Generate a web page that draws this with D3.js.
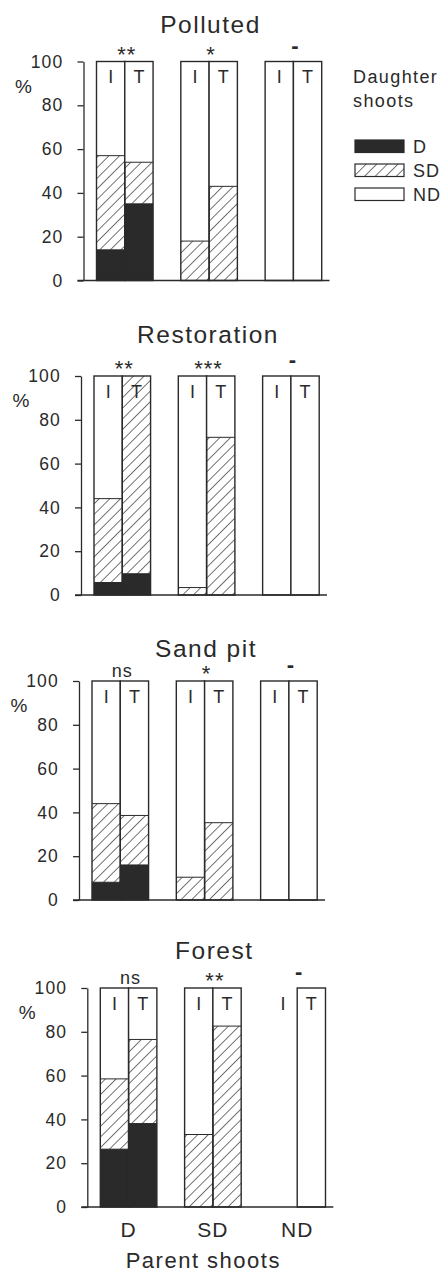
<!DOCTYPE html>
<html>
<head>
<meta charset="utf-8">
<script src="https://cdn.jsdelivr.net/npm/d3@7"></script>
<style>
  body { margin: 0; background: #fff; }
  text { font-family: "Liberation Sans", Arial, Helvetica, sans-serif; fill: #2a2a2a; }
</style>
</head>
<body>
<script>
// site panels, parent shoot classes, treatments
var sites = ["Polluted", "Restoration", "Sand pit", "Forest"];
var parents = ["D", "SD", "ND"];
var treatments = ["I", "T"];
var ticks = [0, 20, 40, 60, 80, 100];
var legendKeys = ["D", "SD", "ND"];

// % of daughter shoots per bar, order: D-I, D-T, SD-I, SD-T, ND-I, ND-T (null = no bar)
var pctD = [
  [14, 35, 0, 0, 0, 0],
  [5.7, 9.7, 0, 0, 0, 0],
  [8.1, 16, 0, 0, 0, 0],
  [26.4, 38.1, 0, 0, null, 0]
];
var pctSD = [
  [43, 19, 18, 43, 0, 0],
  [38.3, 90.3, 3.4, 72, 0, 0],
  [35.9, 22.6, 10.4, 35.3, 0, 0],
  [32.1, 38.4, 33.1, 82.6, null, 0]
];
// significance labels above each parent group
var sig = [
  ["**", "*", "-"],
  ["**", "***", "-"],
  ["ns", "*", "-"],
  ["ns", "**", "-"]
];

// panel placement (scanned figure is slightly uneven)
var panelPos = [
  {x: 83.5, y: 61.5, title: 33},
  {x: 81, y: 376, title: 343},
  {x: 79, y: 681, title: 657},
  {x: 87.3, y: 988, title: 959}
];
var H = 219;
var ink = "#2a2a2a";

var svg = d3.select("body").append("svg")
  .attr("width", 448)
  .attr("height", 1272);

var defs = svg.append("defs");
defs.append("pattern")
  .attr("id", "hatch")
  .attr("patternUnits", "userSpaceOnUse")
  .attr("width", 7.5)
  .attr("height", 7.5)
  .attr("patternTransform", "rotate(45)")
  .append("line")
  .attr("x1", 0).attr("y1", 0)
  .attr("x2", 0).attr("y2", 7.5)
  .attr("stroke", ink)
  .attr("stroke-width", 1.3);

var fills = {D: ink, SD: "url(#hatch)", ND: "#fff"};

sites.forEach(function(site, i) {
  var pos = panelPos[i];
  var g = svg.append("g").attr("transform", "translate(" + pos.x + "," + pos.y + ")");

  var y = d3.scaleLinear().domain([0, 100]).range([H, 0]);
  var x = d3.scaleBand().domain(parents).range([13, 238.2]).paddingInner(0.329);
  var xs = d3.scaleBand().domain(treatments).range([0, x.bandwidth()]);

  // title
  svg.append("text")
    .attr("x", pos.x + 127)
    .attr("y", pos.title)
    .attr("text-anchor", "middle")
    .style("font-size", "24.5px")
    .style("letter-spacing", "1.5px")
    .text(site);

  // bars
  var bars = [];
  parents.forEach(function(p, j) {
    treatments.forEach(function(t, k) {
      var idx = j * 2 + k;
      bars.push({parent: p, treat: t, d: pctD[i][idx], sd: pctSD[i][idx]});
    });
  });

  var bg = g.selectAll(".bar")
    .data(bars)
    .enter().append("g")
    .attr("class", "bar")
    .attr("transform", function(b) { return "translate(" + (x(b.parent) + xs(b.treat)) + ",0)"; });

  bg.each(function(b) {
    if (b.d === null) return;
    var sel = d3.select(this);
    var w = xs.bandwidth();
    var segs = [
      {key: "D", lo: 0, hi: b.d},
      {key: "SD", lo: b.d, hi: b.d + b.sd},
      {key: "ND", lo: b.d + b.sd, hi: 100}
    ].filter(function(s) { return s.hi > s.lo; });

    sel.selectAll("rect.seg")
      .data(segs)
      .enter().append("rect")
      .attr("class", "seg")
      .attr("x", 0)
      .attr("width", w)
      .attr("y", function(s) { return y(s.hi); })
      .attr("height", function(s) { return y(s.lo) - y(s.hi); })
      .attr("fill", function(s) { return fills[s.key]; });

    // boundaries between segments
    segs.slice(1).forEach(function(s) {
      sel.append("line")
        .attr("x1", 0).attr("x2", w)
        .attr("y1", y(s.lo)).attr("y2", y(s.lo))
        .attr("stroke", ink).attr("stroke-width", 1);
    });

    sel.append("rect")
      .attr("x", 0).attr("y", y(100))
      .attr("width", w).attr("height", y(0) - y(100))
      .attr("fill", "none")
      .attr("stroke", ink)
      .attr("stroke-width", 1.4);
  });

  // I / T labels (drawn even when a bar is missing)
  g.selectAll(".tlab")
    .data(bars)
    .enter().append("text")
    .attr("class", "tlab")
    .attr("x", function(b) { return x(b.parent) + xs(b.treat) + xs.bandwidth() / 2; })
    .attr("y", y(100) + 21.5)
    .attr("text-anchor", "middle")
    .style("font-size", "18px")
    .text(function(b) { return b.treat; });

  // significance
  g.selectAll(".sig")
    .data(parents)
    .enter().append("text")
    .attr("class", "sig")
    .attr("x", function(p) { return x(p) + x.bandwidth() / 2 + 2; })
    .attr("y", function(p, j) {
      var s = sig[i][j];
      return s === "-" ? -9 : (s === "ns" ? -4 : 0);
    })
    .attr("text-anchor", "middle")
    .style("font-size", function(p, j) { return sig[i][j] === "ns" ? "18px" : "22px"; })
    .style("font-weight", function(p, j) { return sig[i][j] === "-" ? "bold" : "normal"; })
    .style("letter-spacing", "1px")
    .text(function(p, j) { return sig[i][j]; });

  // y axis
  var yAxis = g.append("g")
    .call(d3.axisLeft(y).tickValues(ticks).tickSize(6).tickPadding(14).tickSizeOuter(0));
  yAxis.select(".domain").attr("stroke", ink).attr("stroke-width", 1.3);
  yAxis.selectAll(".tick line").attr("stroke", ink).attr("stroke-width", 1.3);
  yAxis.selectAll(".tick text")
    .style("font-size", "17.5px")
    .style("letter-spacing", "1.2px")
    .style("font-family", "'Liberation Sans', Arial, sans-serif")
    .attr("fill", ink);

  // baseline
  g.append("line")
    .attr("x1", -6).attr("x2", 246)
    .attr("y1", y(0)).attr("y2", y(0))
    .attr("stroke", ink).attr("stroke-width", 1.3);

  g.append("text")
    .attr("x", -60)
    .attr("y", y(100) + 31)
    .attr("text-anchor", "middle")
    .style("font-size", "19px")
    .text("%");

  if (i === sites.length - 1) {
    var xAxis = g.append("g")
      .attr("transform", "translate(0," + H + ")")
      .call(d3.axisBottom(x).tickSize(0).tickPadding(15));
    xAxis.select(".domain").remove();
    xAxis.selectAll(".tick text")
      .style("font-size", "21px")
      .style("letter-spacing", "1px")
      .style("font-family", "'Liberation Sans', Arial, sans-serif")
      .attr("fill", ink);

    g.append("text")
      .attr("x", 116)
      .attr("y", H + 61)
      .attr("text-anchor", "middle")
      .style("font-size", "22px")
      .style("letter-spacing", "1.5px")
      .text("Parent shoots");
  }
});

// legend
var leg = svg.append("g").attr("transform", "translate(353,0)");
leg.append("text").attr("x", 0).attr("y", 83).style("font-size", "18px").style("letter-spacing", "1.4px").text("Daughter");
leg.append("text").attr("x", 0).attr("y", 107).style("font-size", "18px").style("letter-spacing", "1.4px").text("shoots");

var li = leg.selectAll(".li")
  .data(legendKeys)
  .enter().append("g")
  .attr("class", "li")
  .attr("transform", function(d, k) { return "translate(2," + (140 + k * 24) + ")"; });
li.append("rect")
  .attr("width", 49).attr("height", 12.5)
  .attr("fill", function(d) { return fills[d]; })
  .attr("stroke", ink).attr("stroke-width", 1.2);
li.append("text")
  .attr("x", 58).attr("y", 13)
  .style("font-size", "18px")
  .style("letter-spacing", "1px")
  .text(function(d) { return d; });
</script>
</body>
</html>
